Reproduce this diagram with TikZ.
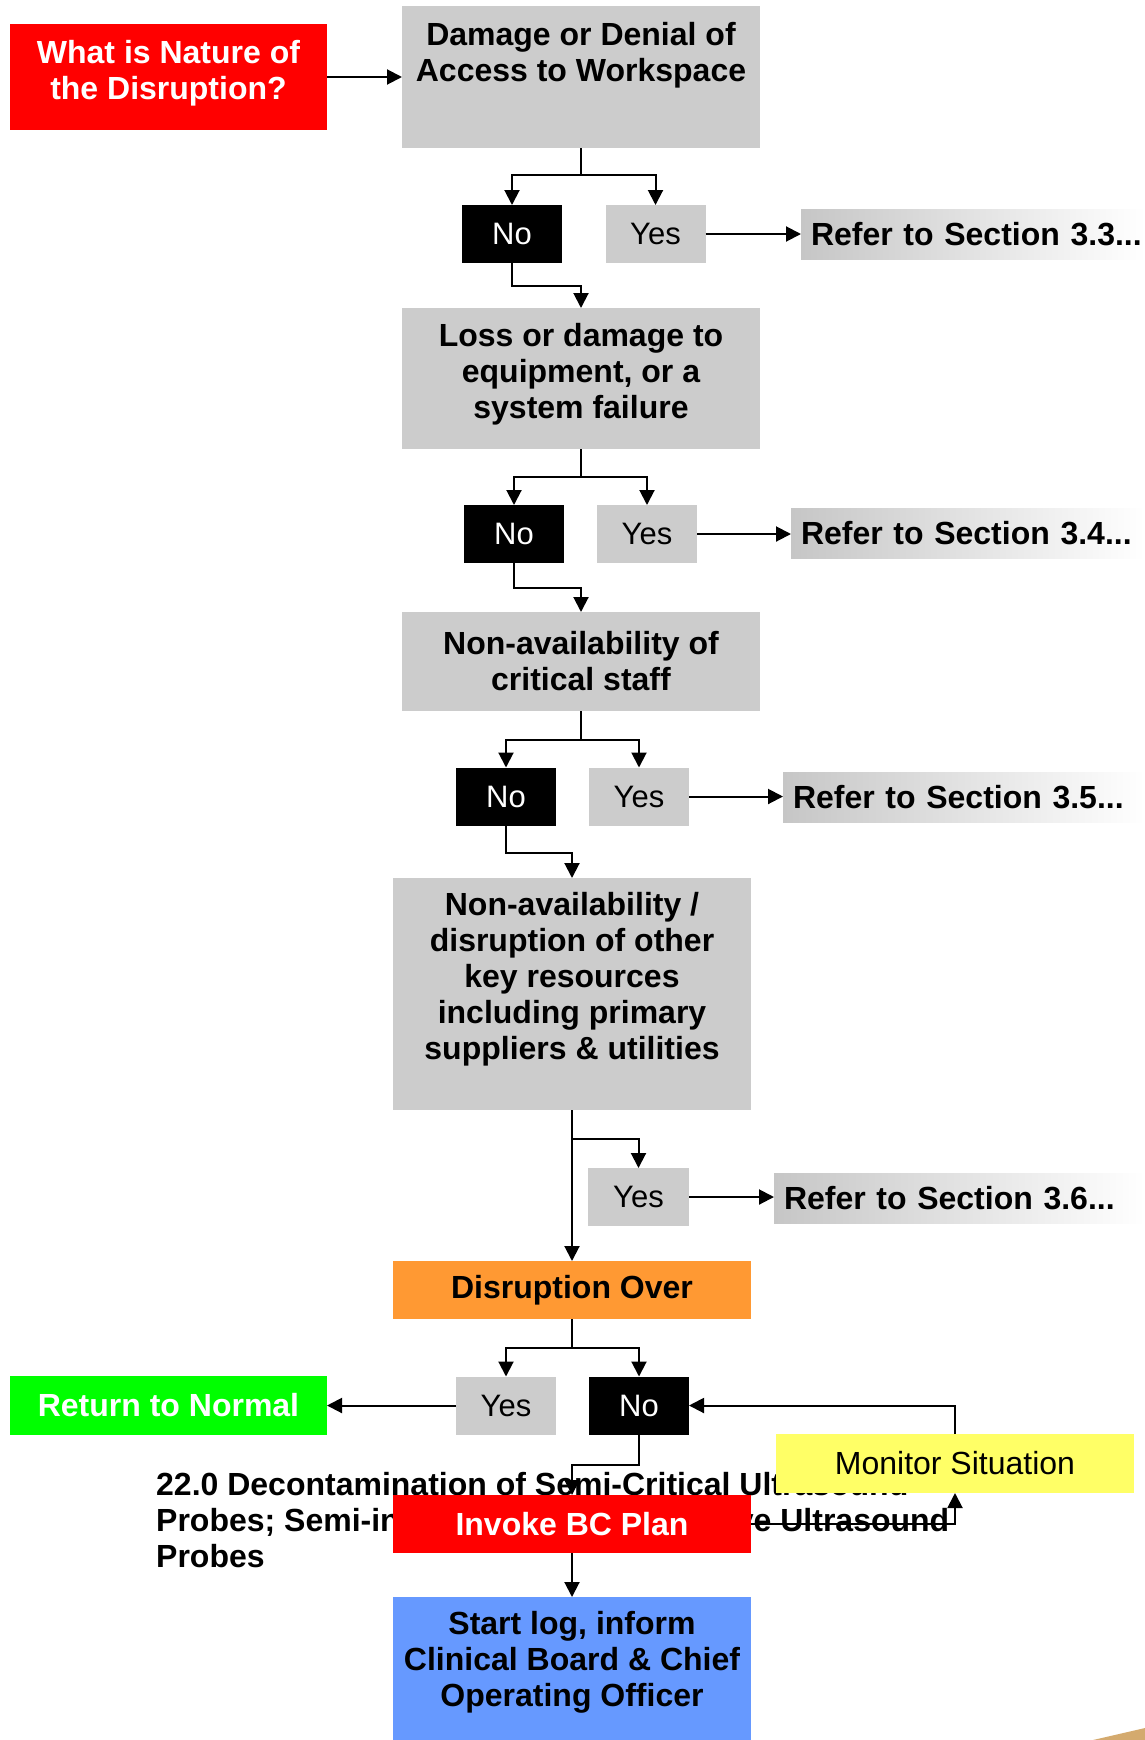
\documentclass[tikz,border=0pt]{standalone}
\usepackage{fontspec}
\setmainfont{Liberation Sans}
\usetikzlibrary{arrows.meta}
\definecolor{boxgray}{RGB}{204,204,204}
\definecolor{fadegray}{RGB}{198,198,198}
\definecolor{ored}{RGB}{255,0,0}
\definecolor{oorange}{RGB}{255,153,51}
\definecolor{ogreen}{RGB}{0,255,0}
\definecolor{oyellow}{RGB}{255,255,102}
\definecolor{oblue}{RGB}{102,153,255}
\definecolor{otan}{RGB}{212,170,110}
\newcommand\bigbold{\fontsize{32}{36}\selectfont\bfseries}
\newcommand\bigreg{\fontsize{31}{36}\selectfont}
\begin{document}
\begin{tikzpicture}[x=1pt,y=-1pt,
  box/.style={inner sep=0pt, outer sep=0pt, align=center, font=\bigbold, minimum width=358pt},
  graybox/.style={box, fill=boxgray},
  yn/.style={inner sep=0pt, outer sep=0pt, font=\bigreg, minimum width=100pt, minimum height=58pt},
  nobox/.style={yn, fill=black, text=white},
  yesbox/.style={yn, fill=boxgray, text=black},
  refer/.style={inner xsep=10pt, inner ysep=0pt, outer sep=0pt, anchor=west, font=\bigbold, minimum height=50pt, left color=fadegray, right color=white, align=left},
  conn/.style={line width=2pt, -{Triangle[length=15pt,width=15pt]}},
  link/.style={line width=2pt}]
\useasboundingbox (0,0) rectangle (1145,1740);

% background note text (partly hidden by boxes)
\node[anchor=north west, inner sep=0pt, align=left, font=\bigbold] (note) at (156,1472)
  {22.0 Decontamination of Semi-Critical Ultrasound\\Probes; Semi-invasive and Non-invasive Ultrasound\\Probes};

% main boxes
\node[box, fill=ored, text=white, minimum width=317pt, minimum height=106pt, text depth=15pt] (q) at (168.5,77) {What is Nature of\\the Disruption?};
\node[graybox, minimum height=142pt, text depth=51pt] (dmg) at (581,77) {Damage or Denial of\\Access to Workspace};
\node[nobox] (no1) at (512,234) {No};
\node[yesbox] (yes1) at (655.5,234) {Yes};
\node[refer, text width=324pt] (r33) at (801,234.5) {\mbox{Refer to Section 3.3...}};

\node[graybox, minimum height=141pt, text depth=16pt] (loss) at (581,378.5) {Loss or damage to\\equipment, or a\\system failure};
\node[nobox] (no2) at (514,534) {No};
\node[yesbox] (yes2) at (647,534) {Yes};
\node[refer, text width=334pt] (r34) at (791,533.5) {\mbox{Refer to Section 3.4...}};

\node[graybox, minimum height=99pt] (staff) at (581,661.5) {Non-availability of\\critical staff};
\node[nobox] (no3) at (506,796.5) {No};
\node[yesbox] (yes3) at (639,796.5) {Yes};
\node[refer, text width=342pt] (r35) at (783,797.5) {\mbox{Refer to Section 3.5...}};

\node[graybox, minimum height=232pt, text depth=36pt] (other) at (572,994) {Non-availability /\\disruption of other\\key resources\\including primary\\suppliers \& utilities};
\node[yesbox, minimum width=101pt] (yes4) at (638.5,1197) {Yes};
\node[refer, text width=351pt] (r36) at (774,1198) {\mbox{Refer to Section 3.6...}};

\node[box, fill=oorange, minimum height=58pt] (over) at (572,1290) {Disruption Over};
\node[box, fill=ogreen, text=white, minimum width=317pt, minimum height=59pt] (ret) at (168.5,1405.5) {Return to Normal};
\node[yesbox] (yes5) at (506,1405.5) {Yes};
\node[nobox] (no5) at (639,1405.5) {No};
\node[box, fill=oyellow, font=\fontsize{32}{36}\selectfont, minimum height=59pt] (mon) at (955,1463.5) {Monitor Situation};
\node[box, fill=ored, text=white, minimum height=58pt] (inv) at (572,1524) {Invoke BC Plan};
\node[box, fill=oblue, minimum height=143pt, text depth=19pt] (start) at (572,1668.5) {Start log, inform\\Clinical Board \& Chief\\Operating Officer};

% decoration corner
\fill[otan] (1093,1740) -- (1145,1728) -- (1145,1740) -- cycle;

% connectors
\draw[conn] (q.east) -- (dmg.west);

\draw[link] (dmg.south) -- ++(0,27) coordinate (b1);
\draw[conn] (b1) -| (no1.north);
\draw[conn] (b1) -| (yes1.north);
\draw[conn] (yes1.east) -- (yes1.east -| r33.west);
\draw[conn] (no1.south) -- ++(0,23) -| (loss.north);

\draw[link] (loss.south) -- ++(0,28) coordinate (b2);
\draw[conn] (b2) -| (no2.north);
\draw[conn] (b2) -| (yes2.north);
\draw[conn] (yes2.east) -- (yes2.east -| r34.west);
\draw[conn] (no2.south) -- ++(0,25) -| (staff.north);

\draw[link] (staff.south) -- ++(0,29) coordinate (b3);
\draw[conn] (b3) -| (no3.north);
\draw[conn] (b3) -| (yes3.north);
\draw[conn] (yes3.east) -- (yes3.east -| r35.west);
\draw[conn] (no3.south) -- ++(0,27) -| (other.north);

\draw[conn] (other.south) -- (over.north);
\path (other.south) ++(0,29) coordinate (b4);
\draw[conn] (b4) -| (yes4.north);
\draw[conn] (yes4.east) -- (yes4.east -| r36.west);

\draw[link] (over.south) -- ++(0,29) coordinate (b5);
\draw[conn] (b5) -| (yes5.north);
\draw[conn] (b5) -| (no5.north);
\draw[conn] (yes5.west) -- (yes5.west -| ret.east);
\draw[conn] (no5.south) -- ++(0,30) -| (inv.north);
\draw[conn] (inv.east) -| (mon.south);
\draw[conn] (mon.north) |- (no5.east);
\draw[conn] (inv.south) -- (start.north);
\end{tikzpicture}
\end{document}
